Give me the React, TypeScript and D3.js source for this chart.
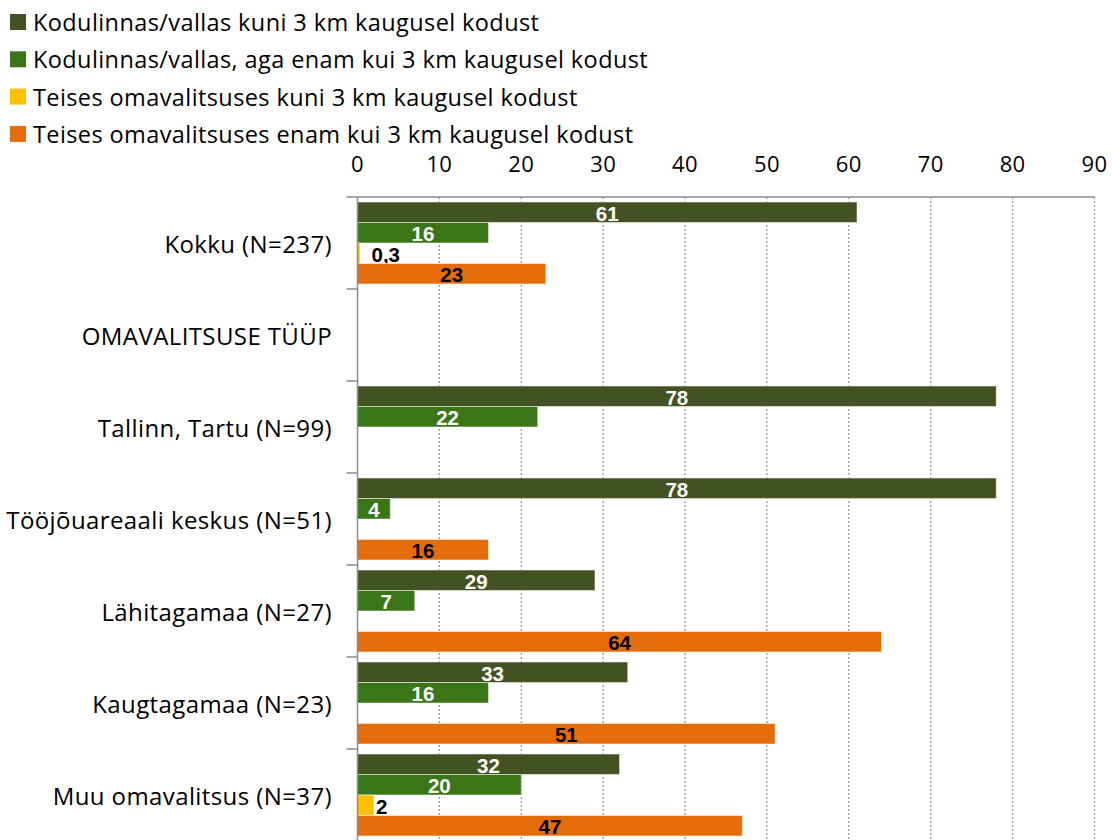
import React from "react";
import * as d3 from "d3";

const categories = [
  "Kokku (N=237)",
  "OMAVALITSUSE TÜÜP",
  "Tallinn, Tartu (N=99)",
  "Tööjõuareaali keskus (N=51)",
  "Lähitagamaa (N=27)",
  "Kaugtagamaa (N=23)",
  "Muu omavalitsus (N=37)",
];

const seriesNames = [
  "Kodulinnas/vallas kuni 3 km kaugusel kodust",
  "Kodulinnas/vallas, aga enam kui 3 km kaugusel kodust",
  "Teises omavalitsuses kuni 3 km kaugusel kodust",
  "Teises omavalitsuses enam kui 3 km kaugusel kodust",
];

const seriesColors = ["#435223", "#3a7618", "#ffc000", "#e46c0a"];
const labelColors = ["#ffffff", "#ffffff", "#000000", "#000000"];

// null = no answer in that group
const withinNear: (number | null)[] = [61, null, 78, 78, 29, 33, 32];
const withinFar: (number | null)[] = [16, null, 22, 4, 7, 16, 20];
const otherNear: (number | null)[] = [0.3, null, null, null, null, null, 2];
const otherFar: (number | null)[] = [23, null, null, 16, 64, 51, 47];

const seriesValues = [withinNear, withinFar, otherNear, otherFar];

const xTicks = [0, 10, 20, 30, 40, 50, 60, 70, 80, 90];

const fmt = (v: number) => String(v).replace(".", ",");

export default function App() {
  const W = 1113;
  const H = 840;
  const left = 357.5;
  const right = 1094.5;
  const top = 197;
  const band = 92;
  const bottom = top + band * categories.length;

  const x = d3.scaleLinear().domain([0, 90]).range([left, right]);
  const y = d3
    .scaleBand<string>()
    .domain(categories)
    .range([top, bottom])
    .paddingInner(0)
    .paddingOuter(0);
  const inner = d3
    .scaleBand<number>()
    .domain([0, 1, 2, 3])
    .range([5, band - 5]);

  const font = "'Open Sans', Lato, sans-serif";
  const labelFont = "'Liberation Sans', Arial, sans-serif";

  return (
    <svg
      width={W}
      height={H}
      style={{ position: "absolute", left: 0, top: 0, display: "block" }}
    >
      <rect width={W} height={H} fill="#ffffff" />

      {/* legend */}
      {seriesNames.map((name, i) => (
        <g key={name} transform={`translate(10, ${22 + i * 37.3})`}>
          <rect x={0} y={-8} width={16} height={16} fill={seriesColors[i]} />
          <text
            x={23}
            y={0}
            dominantBaseline="central"
            fontFamily={font}
            fontSize={23.5}
            letterSpacing={0.4}
            fill="#000"
          >
            {name}
          </text>
        </g>
      ))}

      {/* x tick labels */}
      {xTicks.map((t) => (
        <text
          key={t}
          x={x(t)}
          y={163}
          textAnchor="middle"
          dominantBaseline="central"
          fontFamily={font}
          fontSize={22}
          letterSpacing={0.4}
          fill="#000"
        >
          {t}
        </text>
      ))}

      {/* vertical dotted grid */}
      {xTicks.slice(1).map((t) => (
        <line
          key={t}
          x1={x(t)}
          x2={x(t)}
          y1={top}
          y2={bottom}
          stroke="#9a9a9a"
          strokeWidth={1.3}
          strokeDasharray="2,2"
        />
      ))}

      {/* top frame line */}
      <line x1={left} x2={right} y1={top} y2={top} stroke="#8c8c8c" strokeWidth={1.5} />

      {/* bars */}
      {categories.map((cat, ci) => (
        <g key={cat} transform={`translate(0, ${y(cat)})`}>
          {seriesValues.map((vals, si) => {
            const v = vals[ci];
            if (v === null) return null;
            const by = inner(si)!;
            const bh = inner.bandwidth();
            const w = x(v) - x(0);
            const small = w < 30;
            return (
              <g key={si}>
                <rect
                  x={x(0)}
                  y={by}
                  width={w}
                  height={bh}
                  fill={seriesColors[si]}
                  stroke="#ffffff"
                  strokeOpacity={0.5}
                  strokeWidth={1}
                />
                <text
                  x={small ? Math.max(x(v) + 2, x(0) + 14) : x(0) + w / 2}
                  y={by + bh / 2 + 1}
                  textAnchor={small ? "start" : "middle"}
                  dominantBaseline="central"
                  fontFamily={labelFont}
                  fontWeight="bold"
                  fontSize={20.5}
                  fill={small ? "#000000" : labelColors[si]}
                >
                  {fmt(v)}
                </text>
              </g>
            );
          })}
        </g>
      ))}

      {/* category axis */}
      <line x1={left} x2={left} y1={top} y2={bottom} stroke="#8c8c8c" strokeWidth={1.5} />
      {d3.range(categories.length + 1).map((i) => (
        <line
          key={i}
          x1={left - 11}
          x2={left}
          y1={top + i * band}
          y2={top + i * band}
          stroke="#8c8c8c"
          strokeWidth={1.5}
        />
      ))}
      {categories.map((cat) => (
        <text
          key={cat}
          x={332}
          y={y(cat)! + band / 2}
          textAnchor="end"
          dominantBaseline="central"
          fontFamily={font}
          fontSize={24}
          letterSpacing={0.4}
          fill="#000"
        >
          {cat}
        </text>
      ))}
    </svg>
  );
}
